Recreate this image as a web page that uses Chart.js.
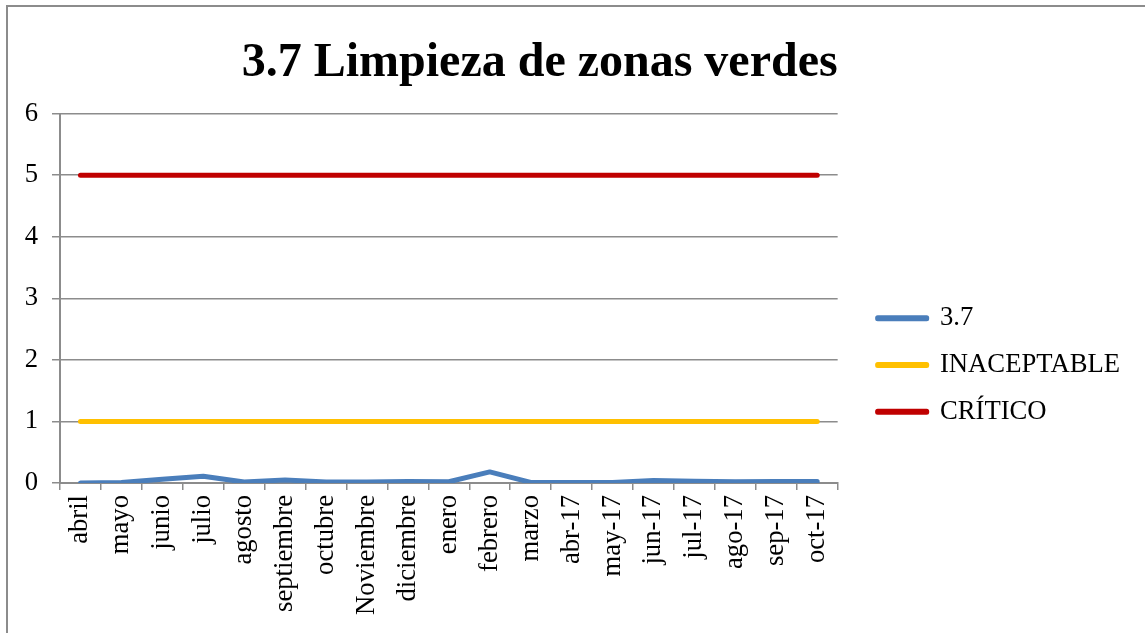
<!DOCTYPE html>
<html>
<head>
<meta charset="utf-8">
<script src="https://cdn.jsdelivr.net/npm/chart.js@4/dist/chart.umd.min.js"></script>
<style>
  html, body { margin: 0; padding: 0; overflow: hidden; background: #fff; }
  #frame { position: absolute; left: 6px; top: 5px; width: 1200px; height: 800px; border: 2px solid #8c8c8c; }
  #wrap { position: absolute; left: 0; top: 0; width: 1145px; height: 700px; }
</style>
</head>
<body>
<div id="frame"></div>
<div id="wrap"><canvas id="grafico"></canvas></div>
<script>
const meses = ["abril", "mayo", "junio", "julio", "agosto", "septiembre", "octubre", "Noviembre", "diciembre", "enero", "febrero", "marzo", "abr-17", "may-17", "jun-17", "jul-17", "ago-17", "sep-17", "oct-17"];
const valores37 = [0, 0.01, 0.06, 0.11, 0.015, 0.05, 0.015, 0.015, 0.025, 0.02, 0.18, 0.01, 0.01, 0.01, 0.04, 0.03, 0.02, 0.025, 0.025];
const inaceptable = [1, 1, 1, 1, 1, 1, 1, 1, 1, 1, 1, 1, 1, 1, 1, 1, 1, 1, 1];
const critico = [5, 5, 5, 5, 5, 5, 5, 5, 5, 5, 5, 5, 5, 5, 5, 5, 5, 5, 5];
const ticksY = [0, 1, 2, 3, 4, 5, 6];

const fuente = "'Liberation Serif', 'Times New Roman', serif";
const gris = "#8c8c8c";

function serie(label, data, color) {
    return {
        label: label,
        data: data,
        borderColor: color,
        backgroundColor: color,
        borderWidth: 5,
        borderCapStyle: 'round',
        borderJoinStyle: 'round',
        pointRadius: 0,
        tension: 0
    };
}

// la leyenda de Excel queda un poco separada del area del grafico
const separaLeyenda = {
    id: 'separaLeyenda',
    afterLayout(chart) {
        chart.legend.left += 20;
        chart.legend.right += 20;
    }
};

let ctx = document.getElementById("grafico");
let graph = new Chart(ctx, {
    type: 'line',
    data: {
        labels: meses,
        datasets: [
            serie("3.7", valores37, "#4a7ebb"),
            serie("INACEPTABLE", inaceptable, "#ffc000"),
            serie("CRÍTICO", critico, "#c00000")
        ]
    },
    plugins: [separaLeyenda],
    options: {
        responsive: true,
        maintainAspectRatio: false,
        animation: false,
        layout: { padding: { top: 35, left: 0, right: 35, bottom: 5 } },
        plugins: {
            title: {
                display: true,
                text: "3.7 Limpieza de zonas verdes",
                fullSize: false,
                align: 'end',
                color: '#000',
                font: { family: fuente, size: 48, weight: 'bold', lineHeight: 1.2 },
                padding: { top: 0, bottom: 21 }
            },
            legend: {
                position: 'right',
                labels: {
                    color: '#000',
                    font: { family: fuente, size: 26.67 },
                    boxWidth: 49,
                    boxHeight: 1,
                    padding: 20
                }
            },
            tooltip: { enabled: false }
        },
        scales: {
            x: {
                offset: true,
                afterFit: s => { s.height = 212; },
                grid: { display: true, offset: true, drawOnChartArea: false, drawTicks: true, tickLength: 7, color: gris, lineWidth: 1.5 },
                border: { display: true, color: gris, width: 2 },
                ticks: {
                    autoSkip: false,
                    maxRotation: 90,
                    minRotation: 90,
                    padding: 5,
                    color: '#000',
                    font: { family: fuente, size: 26.67 }
                }
            },
            y: {
                min: 0,
                max: 6,
                afterFit: s => { s.width = 60; },
                afterBuildTicks: s => { s.ticks = ticksY.map(v => ({ value: v })); },
                grid: { color: gris, lineWidth: 1.5, tickLength: 8 },
                border: { display: true, color: gris, width: 2 },
                ticks: {
                    padding: 14,
                    color: '#000',
                    font: { family: fuente, size: 26.67 }
                }
            }
        }
    }
});
</script>
</body>
</html>
